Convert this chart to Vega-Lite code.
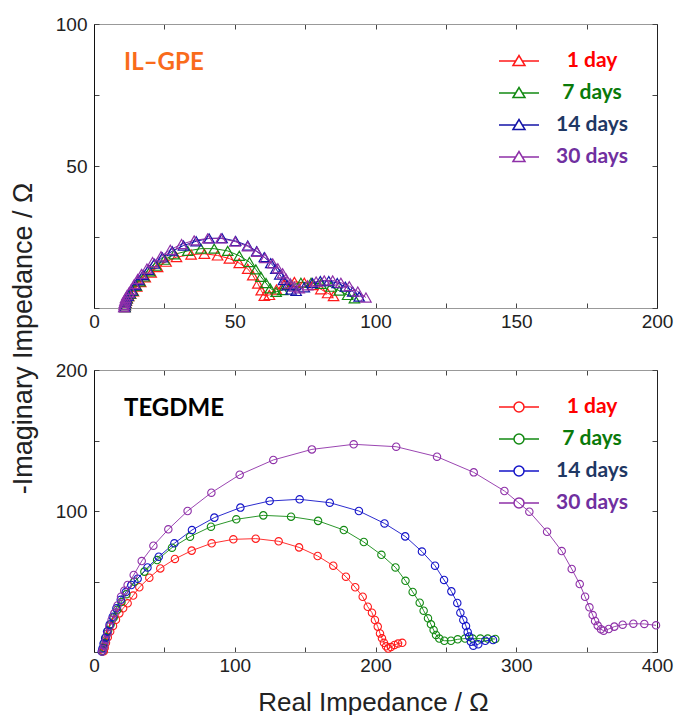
{
  "$schema": "https://vega.github.io/schema/vega-lite/v6.json",
  "background": "white",
  "padding": {"left": 9, "top": 15, "right": 5, "bottom": 0},
  "bounds": "flush",
  "spacing": 62,
  "config": {
    "view": {"stroke": null},
    "font": "Liberation Sans",
    "axis": {
      "labelFont": "Liberation Sans", "labelFontSize": 19, "labelColor": "#222", "labelFlush": false,
      "grid": false, "tickColor": "#444", "tickSize": -5, "domainColor": "#888",
      "titleFont": "Liberation Sans", "titleFontWeight": "normal", "titleColor": "#222"
    }
  },
  "resolve": {"scale": {"x": "independent", "y": "independent", "color": "independent"}, "legend": {"color": "independent"}},
  "datasets": {
    "il": [
      {"s":"1 day","x":11.0,"y":0.3},{"s":"1 day","x":11.1,"y":1.0},{"s":"1 day","x":11.3,"y":1.8},{"s":"1 day","x":11.5,"y":2.6},{"s":"1 day","x":11.8,"y":3.4},{"s":"1 day","x":12.3,"y":4.2},{"s":"1 day","x":13.0,"y":5.0},{"s":"1 day","x":14.0,"y":5.9},{"s":"1 day","x":15.2,"y":7.5},{"s":"1 day","x":16.6,"y":9.1},{"s":"1 day","x":18.2,"y":10.8},{"s":"1 day","x":20.3,"y":12.5},{"s":"1 day","x":22.6,"y":14.4},{"s":"1 day","x":25.6,"y":16.3},{"s":"1 day","x":29.3,"y":17.9},{"s":"1 day","x":34.5,"y":18.8},{"s":"1 day","x":39.2,"y":19.1},{"s":"1 day","x":43.9,"y":18.5},{"s":"1 day","x":48.1,"y":17.4},{"s":"1 day","x":51.6,"y":15.8},{"s":"1 day","x":54.6,"y":13.8},{"s":"1 day","x":56.4,"y":11.5},{"s":"1 day","x":58.2,"y":8.6},{"s":"1 day","x":59.4,"y":6.2},{"s":"1 day","x":60.5,"y":4.3},{"s":"1 day","x":62.3,"y":4.6},{"s":"1 day","x":64.8,"y":6.5},{"s":"1 day","x":67.6,"y":8.4},{"s":"1 day","x":71.2,"y":9.2},{"s":"1 day","x":74.7,"y":8.9},{"s":"1 day","x":77.7,"y":8.1},{"s":"1 day","x":80.6,"y":6.6},{"s":"1 day","x":83.0,"y":5.2},{"s":"1 day","x":85.1,"y":4.2},
      {"s":"7 days","x":11.0,"y":0.3},{"s":"7 days","x":11.1,"y":1.0},{"s":"7 days","x":11.2,"y":1.8},{"s":"7 days","x":11.4,"y":2.6},{"s":"7 days","x":11.7,"y":3.4},{"s":"7 days","x":12.2,"y":4.2},{"s":"7 days","x":12.9,"y":5.1},{"s":"7 days","x":13.8,"y":6.0},{"s":"7 days","x":15.0,"y":7.8},{"s":"7 days","x":16.3,"y":9.4},{"s":"7 days","x":17.8,"y":11.1},{"s":"7 days","x":19.8,"y":12.9},{"s":"7 days","x":22.0,"y":14.9},{"s":"7 days","x":25.0,"y":17.0},{"s":"7 days","x":28.5,"y":18.9},{"s":"7 days","x":33.3,"y":20.1},{"s":"7 days","x":38.0,"y":20.9},{"s":"7 days","x":42.7,"y":20.9},{"s":"7 days","x":47.5,"y":20.1},{"s":"7 days","x":51.6,"y":18.4},{"s":"7 days","x":55.2,"y":16.2},{"s":"7 days","x":57.5,"y":13.6},{"s":"7 days","x":59.3,"y":11.0},{"s":"7 days","x":61.1,"y":8.8},{"s":"7 days","x":62.6,"y":6.9},{"s":"7 days","x":64.7,"y":5.7},{"s":"7 days","x":67.0,"y":6.3},{"s":"7 days","x":70.0,"y":8.1},{"s":"7 days","x":73.5,"y":8.9},{"s":"7 days","x":77.1,"y":8.9},{"s":"7 days","x":80.6,"y":8.5},{"s":"7 days","x":84.2,"y":7.5},{"s":"7 days","x":87.1,"y":6.1},{"s":"7 days","x":90.1,"y":4.6},{"s":"7 days","x":92.5,"y":3.4},
      {"s":"14 days","x":10.9,"y":0.3},{"s":"14 days","x":11.0,"y":1.0},{"s":"14 days","x":11.1,"y":1.8},{"s":"14 days","x":11.3,"y":2.6},{"s":"14 days","x":11.5,"y":3.4},{"s":"14 days","x":12.0,"y":4.3},{"s":"14 days","x":12.7,"y":5.2},{"s":"14 days","x":13.5,"y":6.2},{"s":"14 days","x":14.7,"y":8.1},{"s":"14 days","x":15.9,"y":9.8},{"s":"14 days","x":17.4,"y":11.6},{"s":"14 days","x":19.3,"y":13.4},{"s":"14 days","x":21.4,"y":15.6},{"s":"14 days","x":24.3,"y":17.8},{"s":"14 days","x":27.8,"y":20.0},{"s":"14 days","x":31.8,"y":22.0},{"s":"14 days","x":36.3,"y":23.5},{"s":"14 days","x":40.9,"y":24.5},{"s":"14 days","x":45.5,"y":24.6},{"s":"14 days","x":50.3,"y":23.6},{"s":"14 days","x":54.6,"y":22.0},{"s":"14 days","x":57.8,"y":20.0},{"s":"14 days","x":60.5,"y":17.9},{"s":"14 days","x":62.8,"y":15.8},{"s":"14 days","x":64.6,"y":13.8},{"s":"14 days","x":66.0,"y":11.8},{"s":"14 days","x":67.3,"y":9.8},{"s":"14 days","x":68.6,"y":8.0},{"s":"14 days","x":70.0,"y":6.5},{"s":"14 days","x":71.8,"y":6.0},{"s":"14 days","x":74.7,"y":7.3},{"s":"14 days","x":77.6,"y":8.8},{"s":"14 days","x":80.4,"y":9.5},{"s":"14 days","x":83.4,"y":9.5},{"s":"14 days","x":86.4,"y":8.8},{"s":"14 days","x":89.3,"y":7.5},{"s":"14 days","x":91.9,"y":5.8},{"s":"14 days","x":94.2,"y":4.0},
      {"s":"30 days","x":10.6,"y":0.3},{"s":"30 days","x":10.7,"y":1.0},{"s":"30 days","x":10.8,"y":1.8},{"s":"30 days","x":11.0,"y":2.6},{"s":"30 days","x":11.2,"y":3.5},{"s":"30 days","x":11.7,"y":4.5},{"s":"30 days","x":12.4,"y":5.4},{"s":"30 days","x":13.1,"y":6.4},{"s":"30 days","x":14.3,"y":8.4},{"s":"30 days","x":15.5,"y":10.2},{"s":"30 days","x":16.9,"y":12.0},{"s":"30 days","x":18.8,"y":13.9},{"s":"30 days","x":20.8,"y":16.2},{"s":"30 days","x":23.8,"y":18.2},{"s":"30 days","x":27.1,"y":20.5},{"s":"30 days","x":31.1,"y":22.5},{"s":"30 days","x":35.6,"y":23.8},{"s":"30 days","x":40.4,"y":24.5},{"s":"30 days","x":45.1,"y":24.5},{"s":"30 days","x":50.1,"y":23.4},{"s":"30 days","x":54.6,"y":21.7},{"s":"30 days","x":57.9,"y":19.8},{"s":"30 days","x":60.8,"y":17.6},{"s":"30 days","x":63.5,"y":15.7},{"s":"30 days","x":65.3,"y":14.0},{"s":"30 days","x":67.0,"y":12.2},{"s":"30 days","x":68.2,"y":10.4},{"s":"30 days","x":69.7,"y":8.7},{"s":"30 days","x":71.2,"y":7.5},{"s":"30 days","x":72.9,"y":6.9},{"s":"30 days","x":75.9,"y":8.0},{"s":"30 days","x":78.9,"y":9.3},{"s":"30 days","x":81.8,"y":9.7},{"s":"30 days","x":84.8,"y":9.7},{"s":"30 days","x":87.7,"y":8.9},{"s":"30 days","x":90.7,"y":7.7},{"s":"30 days","x":93.7,"y":5.8},{"s":"30 days","x":96.6,"y":3.7}
    ],
    "teg": [
      {"s":"1 day","x":7.0,"y":0.5},{"s":"1 day","x":7.6,"y":3.0},{"s":"1 day","x":8.5,"y":6.5},{"s":"1 day","x":9.8,"y":10.5},{"s":"1 day","x":11.5,"y":14.5},{"s":"1 day","x":13.5,"y":18.5},{"s":"1 day","x":15.6,"y":22.8},{"s":"1 day","x":18.0,"y":27.4},{"s":"1 day","x":20.7,"y":31.0},{"s":"1 day","x":23.9,"y":34.5},{"s":"1 day","x":27.8,"y":40.0},{"s":"1 day","x":32.2,"y":45.9},{"s":"1 day","x":39.3,"y":52.7},{"s":"1 day","x":47.1,"y":59.3},{"s":"1 day","x":57.5,"y":66.0},{"s":"1 day","x":69.4,"y":71.9},{"s":"1 day","x":83.6,"y":77.1},{"s":"1 day","x":99.0,"y":79.9},{"s":"1 day","x":114.9,"y":80.4},{"s":"1 day","x":131.2,"y":78.5},{"s":"1 day","x":145.7,"y":74.2},{"s":"1 day","x":158.9,"y":68.1},{"s":"1 day","x":170.0,"y":61.2},{"s":"1 day","x":179.0,"y":53.4},{"s":"1 day","x":185.6,"y":45.9},{"s":"1 day","x":190.9,"y":39.2},{"s":"1 day","x":194.5,"y":32.1},{"s":"1 day","x":197.5,"y":27.9},{"s":"1 day","x":199.6,"y":22.7},{"s":"1 day","x":201.6,"y":18.0},{"s":"1 day","x":203.2,"y":13.2},{"s":"1 day","x":204.6,"y":9.7},{"s":"1 day","x":206.0,"y":6.5},{"s":"1 day","x":207.5,"y":4.0},{"s":"1 day","x":209.0,"y":2.5},{"s":"1 day","x":211.0,"y":3.5},{"s":"1 day","x":213.5,"y":5.0},{"s":"1 day","x":216.0,"y":6.0},{"s":"1 day","x":219.0,"y":6.5},
      {"s":"7 days","x":6.0,"y":0.5},{"s":"7 days","x":6.6,"y":3.0},{"s":"7 days","x":7.4,"y":6.5},{"s":"7 days","x":8.5,"y":10.5},{"s":"7 days","x":10.0,"y":15.0},{"s":"7 days","x":11.8,"y":19.5},{"s":"7 days","x":14.0,"y":24.5},{"s":"7 days","x":16.5,"y":30.0},{"s":"7 days","x":19.5,"y":35.5},{"s":"7 days","x":23.0,"y":41.0},{"s":"7 days","x":28.7,"y":49.9},{"s":"7 days","x":35.8,"y":57.0},{"s":"7 days","x":44.8,"y":65.2},{"s":"7 days","x":55.4,"y":74.0},{"s":"7 days","x":68.2,"y":81.8},{"s":"7 days","x":83.1,"y":88.9},{"s":"7 days","x":101.1,"y":94.1},{"s":"7 days","x":120.3,"y":96.9},{"s":"7 days","x":140.0,"y":96.0},{"s":"7 days","x":159.2,"y":93.0},{"s":"7 days","x":177.5,"y":86.5},{"s":"7 days","x":191.7,"y":78.0},{"s":"7 days","x":204.2,"y":68.9},{"s":"7 days","x":214.2,"y":60.0},{"s":"7 days","x":221.3,"y":50.5},{"s":"7 days","x":226.4,"y":42.6},{"s":"7 days","x":231.4,"y":35.0},{"s":"7 days","x":234.2,"y":29.3},{"s":"7 days","x":237.3,"y":23.9},{"s":"7 days","x":239.4,"y":19.6},{"s":"7 days","x":241.3,"y":15.6},{"s":"7 days","x":243.0,"y":12.1},{"s":"7 days","x":245.3,"y":9.5},{"s":"7 days","x":248.9,"y":8.0},{"s":"7 days","x":253.6,"y":8.0},{"s":"7 days","x":258.4,"y":9.0},{"s":"7 days","x":263.6,"y":9.5},{"s":"7 days","x":269.0,"y":9.5},{"s":"7 days","x":274.5,"y":9.5},{"s":"7 days","x":279.7,"y":9.5},{"s":"7 days","x":285.1,"y":9.2},
      {"s":"14 days","x":5.5,"y":0.3},{"s":"14 days","x":6.0,"y":2.5},{"s":"14 days","x":6.8,"y":6.0},{"s":"14 days","x":7.9,"y":10.0},{"s":"14 days","x":9.3,"y":14.5},{"s":"14 days","x":11.1,"y":19.5},{"s":"14 days","x":13.3,"y":25.0},{"s":"14 days","x":15.9,"y":31.0},{"s":"14 days","x":19.0,"y":37.0},{"s":"14 days","x":22.6,"y":42.5},{"s":"14 days","x":26.5,"y":47.5},{"s":"14 days","x":31.0,"y":52.0},{"s":"14 days","x":38.0,"y":60.0},{"s":"14 days","x":46.0,"y":67.6},{"s":"14 days","x":57.1,"y":77.1},{"s":"14 days","x":69.6,"y":86.5},{"s":"14 days","x":85.5,"y":95.3},{"s":"14 days","x":104.0,"y":102.4},{"s":"14 days","x":124.8,"y":107.1},{"s":"14 days","x":146.1,"y":108.3},{"s":"14 days","x":167.5,"y":105.9},{"s":"14 days","x":188.2,"y":100.0},{"s":"14 days","x":206.4,"y":91.2},{"s":"14 days","x":221.1,"y":82.0},{"s":"14 days","x":233.0,"y":71.2},{"s":"14 days","x":242.3,"y":61.2},{"s":"14 days","x":248.7,"y":51.1},{"s":"14 days","x":253.9,"y":43.0},{"s":"14 days","x":258.1,"y":34.8},{"s":"14 days","x":260.3,"y":27.9},{"s":"14 days","x":262.4,"y":22.7},{"s":"14 days","x":264.3,"y":18.4},{"s":"14 days","x":265.5,"y":14.2},{"s":"14 days","x":266.6,"y":10.9},{"s":"14 days","x":267.8,"y":7.3},{"s":"14 days","x":269.5,"y":4.5},{"s":"14 days","x":273.0,"y":5.5},{"s":"14 days","x":278.0,"y":8.0},{"s":"14 days","x":283.5,"y":8.5},
      {"s":"30 days","x":5.8,"y":0.3},{"s":"30 days","x":6.5,"y":2.0},{"s":"30 days","x":7.3,"y":4.5},{"s":"30 days","x":8.5,"y":8.5},{"s":"30 days","x":9.7,"y":13.2},{"s":"30 days","x":10.9,"y":17.9},{"s":"30 days","x":12.5,"y":22.7},{"s":"30 days","x":14.4,"y":27.4},{"s":"30 days","x":16.7,"y":33.0},{"s":"30 days","x":19.2,"y":39.2},{"s":"30 days","x":21.5,"y":43.5},{"s":"30 days","x":23.9,"y":47.5},{"s":"30 days","x":28.2,"y":54.6},{"s":"30 days","x":33.9,"y":64.5},{"s":"30 days","x":42.2,"y":75.4},{"s":"30 days","x":52.8,"y":87.0},{"s":"30 days","x":66.5,"y":100.0},{"s":"30 days","x":83.4,"y":113.0},{"s":"30 days","x":103.5,"y":125.7},{"s":"30 days","x":127.4,"y":136.2},{"s":"30 days","x":154.8,"y":143.7},{"s":"30 days","x":184.5,"y":147.3},{"s":"30 days","x":214.7,"y":145.6},{"s":"30 days","x":243.7,"y":138.5},{"s":"30 days","x":269.8,"y":127.4},{"s":"30 days","x":291.6,"y":114.2},{"s":"30 days","x":309.3,"y":99.5},{"s":"30 days","x":321.9,"y":85.3},{"s":"30 days","x":332.3,"y":71.6},{"s":"30 days","x":339.4,"y":58.9},{"s":"30 days","x":345.1,"y":48.2},{"s":"30 days","x":348.9,"y":39.2},{"s":"30 days","x":352.0,"y":31.7},{"s":"30 days","x":354.3,"y":26.2},{"s":"30 days","x":356.0,"y":22.0},{"s":"30 days","x":357.9,"y":18.7},{"s":"30 days","x":360.2,"y":16.1},{"s":"30 days","x":362.1,"y":15.1},{"s":"30 days","x":365.7,"y":16.3},{"s":"30 days","x":369.7,"y":18.0},{"s":"30 days","x":375.6,"y":19.4},{"s":"30 days","x":383.2,"y":20.1},{"s":"30 days","x":391.0,"y":19.9},{"s":"30 days","x":399.3,"y":18.9}
    ]
  },
  "vconcat": [
    {
      "width": 563, "height": 284,
      "data": {"name": "il"},
      "resolve": {"axis": {"x": "independent", "y": "independent"}},
      "layer": [
        {
          "mark": {"type": "line", "strokeWidth": 1, "point": {"shape": "triangle-up", "filled": false, "size": 110, "strokeWidth": 1.2}},
          "encoding": {
            "x": {"field": "x", "type": "quantitative", "scale": {"domain": [0, 200], "nice": false},
              "axis": {"values": [0,25,50,75,100,125,150,175,200], "labelExpr": "datum.value % 50 == 0 ? datum.label : ''", "title": null, "labelPadding": 9, "domainColor": "#999"}},
            "y": {"field": "y", "type": "quantitative", "scale": {"domain": [0, 100], "nice": false},
              "axis": {"values": [0,25,50,75,100], "labelExpr": "datum.value > 0 && datum.value % 50 == 0 ? datum.label : ''", "labelPadding": 12, "domainColor": "#111",
                "title": "-Imaginary Impedance / Ω", "titleFontSize": 27, "titleX": -63, "titleY": 314, "titleAlign": "center", "titleBaseline": "alphabetic", "titleAngle": -90}},
            "color": {"field": "s", "type": "nominal",
              "scale": {"domain": ["1 day","7 days","14 days","30 days"], "range": ["#ff1a1a","#138a13","#1414a8","#8e30a8"]},
              "legend": {"orient": "none", "legendX": 414, "legendY": 26, "title": null, "padding": 0,
                "symbolType": "M-2,0H-0.33M0.33,0H2M-0.6,0.45L0,-0.55L0.6,0.45Z", "symbolSize": 400, "symbolStrokeWidth": 1.5, "symbolFillColor": "transparent",
                "labelFont": "Lato", "labelFontWeight": "bold", "labelFontSize": 21, "labelAlign": "center", "labelOffset": 62, "rowPadding": 11,
                "encode": {"labels": {"update": {"fill": {"signal": "datum.label == '1 day' ? '#ff0000' : datum.label == '7 days' ? '#0a7a0a' : datum.label == '14 days' ? '#1f3864' : '#7030a0'"}}}}}}
          }
        },
        {
          "data": {"values": [{"t": "IL–GPE"}]},
          "mark": {"type": "text", "font": "Lato", "fontWeight": "bold", "fontSize": 24, "color": "#f96b1b", "align": "left", "baseline": "alphabetic"},
          "encoding": {
            "x": {"datum": 10.7, "type": "quantitative", "axis": null},
            "y": {"datum": 83.8, "type": "quantitative", "axis": null},
            "text": {"field": "t"}
          }
        },
        {
          "mark": {"type": "point", "opacity": 0},
          "encoding": {
            "x": {"field": "x", "type": "quantitative", "axis": {"orient": "top", "values": [0,25,50,75,100,125,150,175,200], "labels": false, "title": null, "domainColor": "#999"}},
            "y": {"field": "y", "type": "quantitative", "axis": {"orient": "right", "values": [0,25,50,75,100], "labels": false, "title": null, "domainColor": "#222"}}
          }
        }
      ]
    },
    {
      "width": 563, "height": 282,
      "data": {"name": "teg"},
      "resolve": {"axis": {"x": "independent", "y": "independent"}},
      "layer": [
        {
          "mark": {"type": "line", "strokeWidth": 0.9, "point": {"shape": "circle", "filled": false, "size": 55, "strokeWidth": 1.1}},
          "encoding": {
            "x": {"field": "x", "type": "quantitative", "scale": {"domain": [0, 400], "nice": false},
              "axis": {"values": [0,50,100,150,200,250,300,350,400], "labelExpr": "datum.value % 100 == 0 ? datum.label : ''", "labelPadding": 9, "domainColor": "#999",
                "title": "Real Impedance / Ω", "titleFontSize": 26, "titleX": 279, "titleY": 58, "titleAlign": "center", "titleBaseline": "alphabetic"}},
            "y": {"field": "y", "type": "quantitative", "scale": {"domain": [0, 200], "nice": false},
              "axis": {"values": [0,50,100,150,200], "labelExpr": "datum.value > 0 && datum.value % 100 == 0 ? datum.label : ''", "labelPadding": 12, "domainColor": "#111", "title": null}},
            "color": {"field": "s", "type": "nominal",
              "scale": {"domain": ["1 day","7 days","14 days","30 days"], "range": ["#ff1a1a","#138a13","#1414c8","#8e30a8"]},
              "legend": {"orient": "none", "legendX": 414, "legendY": 26, "title": null, "padding": 0,
                "symbolType": "M-2,0H-0.5M0.5,0H2M-0.5,0A0.5,0.5,0,1,1,0.5,0A0.5,0.5,0,1,1,-0.5,0Z", "symbolSize": 400, "symbolStrokeWidth": 1.5, "symbolFillColor": "transparent",
                "labelFont": "Lato", "labelFontWeight": "bold", "labelFontSize": 21, "labelAlign": "center", "labelOffset": 62, "rowPadding": 11,
                "encode": {"labels": {"update": {"fill": {"signal": "datum.label == '1 day' ? '#ff0000' : datum.label == '7 days' ? '#0a7a0a' : datum.label == '14 days' ? '#1f3864' : '#7030a0'"}}}}}}
          }
        },
        {
          "data": {"values": [{"t": "TEGDME"}]},
          "mark": {"type": "text", "font": "Lato", "fontWeight": "bold", "fontSize": 24, "color": "#000000", "align": "left", "baseline": "alphabetic"},
          "encoding": {
            "x": {"datum": 21.3, "type": "quantitative", "axis": null},
            "y": {"datum": 167.4, "type": "quantitative", "axis": null},
            "text": {"field": "t"}
          }
        },
        {
          "mark": {"type": "point", "opacity": 0},
          "encoding": {
            "x": {"field": "x", "type": "quantitative", "axis": {"orient": "top", "values": [0,50,100,150,200,250,300,350,400], "labels": false, "title": null, "domainColor": "#999"}},
            "y": {"field": "y", "type": "quantitative", "axis": {"orient": "right", "values": [0,50,100,150,200], "labels": false, "title": null, "domainColor": "#222"}}
          }
        }
      ]
    }
  ]
}
